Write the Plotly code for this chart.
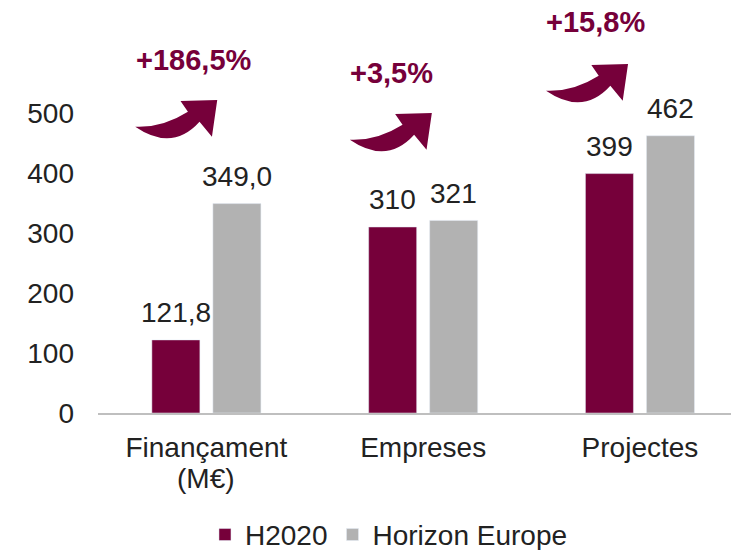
import plotly.graph_objects as go

# ---- data ----
categories = ["Finançament", "Empreses", "Projectes"]
category_units = ["(M€)", "", ""]
h2020 = [121.8, 310, 399]
horizon_europe = [349.0, 321, 462]
decimals = [1, 0, 0]
y_ticks = [0, 100, 200, 300, 400, 500]
series_names = ["H2020", "Horizon Europe"]

# ---- style / layout constants ----
MAROON = "#76003A"
GREY = "#B2B2B2"
TXT = "#222222"
FONT = "Arial, Liberation Sans, sans-serif"
FS = 28
W, H = 731, 550
ML, MR, MT, MB = 98, 0, 0, 137
X_RANGE = [-0.5, 2.42]
Y_RANGE = [0, 688.3]
BARGAP, GROUPGAP = 0.437, 0.213
LABEL_LIFT = 27  # px between bar top and value-label centre
UNIT_DROP = 65   # px between axis line and unit-line centre

px_per_x = (W - ML - MR) / (X_RANGE[1] - X_RANGE[0])
px_per_y = (H - MT - MB) / (Y_RANGE[1] - Y_RANGE[0])

# arrow tips and percentage label anchors (offset from category index)
arrow_tip_dx = [0.05, 0.04, -0.055]
arrow_tip_y = [521.7, 500, 581.7]
pct_dx = [-0.055, -0.146, -0.203]
pct_y = [588, 566.7, 651.7]

def fmt(v, d):
    return f"{v:.{d}f}".replace(".", ",")

xs = list(range(len(categories)))
slot_offset = (1 - BARGAP) / 4  # centre of each bar in a group of two

fig = go.Figure()
for vals, name, col, sign in [(h2020, series_names[0], MAROON, -1),
                              (horizon_europe, series_names[1], GREY, 1)]:
    fig.add_trace(go.Bar(x=xs, y=vals, name=name, marker_color=col))
    for i, v in enumerate(vals):
        fig.add_annotation(x=i + sign * slot_offset, y=v, xref="x", yref="y",
                           text=fmt(v, decimals[i]), showarrow=False,
                           xanchor="center", yanchor="middle", yshift=LABEL_LIFT,
                           font=dict(size=FS, color=TXT, family=FONT))

# second line of the category labels
for i, u in enumerate(category_units):
    if u:
        fig.add_annotation(x=i, y=0, xref="x", yref="y", text=u, showarrow=False,
                           xanchor="center", yanchor="middle", yshift=-UNIT_DROP,
                           font=dict(size=FS, color=TXT, family=FONT))

# curved arrow outline in pixel offsets from tip (dx right, dy down)
def arrow_path(tx, ty):
    def P(dx, dy):
        return f"{tx + dx / px_per_x},{ty - dy / px_per_y}"
    return (f"M{P(-82, 26.7)} Q{P(-45, 52)} {P(-17.7, 21.7)} "
            f"L{P(-5.3, 36.7)} L{P(0, 0)} L{P(-36.7, 1)} L{P(-29.3, 11.7)} "
            f"Q{P(-55, 28)} {P(-82, 26.7)} Z")

for i in xs:
    change = (horizon_europe[i] - h2020[i]) / h2020[i] * 100
    fig.add_shape(type="path", xref="x", yref="y",
                  path=arrow_path(i + arrow_tip_dx[i], arrow_tip_y[i]),
                  fillcolor=MAROON, line=dict(width=0), layer="above")
    fig.add_annotation(x=i + pct_dx[i], y=pct_y[i], xref="x", yref="y",
                       text=f"<b>+{fmt(change, 1)}%</b>", showarrow=False,
                       font=dict(size=29, color=MAROON, family=FONT),
                       xanchor="center", yanchor="middle")

fig.update_layout(
    width=W, height=H,
    margin=dict(l=ML, r=MR, t=MT, b=MB, autoexpand=False),
    paper_bgcolor="white", plot_bgcolor="white",
    barmode="group", bargap=BARGAP, bargroupgap=GROUPGAP,
    font=dict(family=FONT, size=FS, color=TXT),
    showlegend=True,
    legend=dict(orientation="h", x=0.169, xanchor="left", y=-0.295, yanchor="middle",
                font=dict(size=FS, color=TXT, family=FONT), itemclick=False),
)
fig.update_xaxes(range=X_RANGE, tickvals=xs, ticktext=categories, showgrid=False,
                 showline=True, linecolor="#BFBFBF", linewidth=1.5, ticks="",
                 zeroline=False, ticklabelstandoff=9,
                 tickfont=dict(size=FS, color=TXT, family=FONT))
fig.update_yaxes(range=Y_RANGE, tickvals=y_ticks, showgrid=False, zeroline=False,
                 showline=False, ticks="", ticklabelstandoff=23,
                 tickfont=dict(size=FS, color=TXT, family=FONT))

fig.write_html("out.html", config={"displayModeBar": False})

# remove the default page margin so the figure sits at the window's top-left
with open("out.html", encoding="utf-8") as f:
    html = f.read()
html = html.replace("<head>", "<head><style>html,body{margin:0;padding:0;overflow:hidden}</style>", 1)
with open("out.html", "w", encoding="utf-8") as f:
    f.write(html)
